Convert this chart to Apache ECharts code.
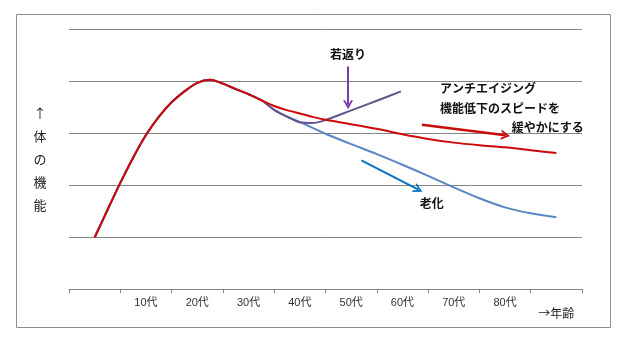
<!DOCTYPE html>
<html>
<head>
<meta charset="utf-8">
<script src="https://cdn.jsdelivr.net/npm/echarts@6/dist/echarts.min.js"></script>
<style>
  html, body { margin: 0; padding: 0; background: #fff; }
  #chart { width: 620px; height: 340px; }
</style>
</head>
<body>
<div id="chart"></div>
<script>
// 年代ラベル（最初の区間はラベルなし）
const ageLabels = ['', '10代', '20代', '30代', '40代', '50代', '60代', '70代', '80代', '→年齢']

// x は区間の位置（0.5 = 最初の区間の中央）、y は体の機能
const sharedRise = [[0.5, 19.8], [0.75, 30.4], [1, 40.8], [1.25, 50.5], [1.5, 59.2], [1.75, 66.2], [2, 71.8], [2.25, 76], [2.5, 79.3], [2.75, 80.5], [3, 79], [3.25, 76.9], [3.5, 74.9], [3.75, 72.6]]
const antiAgingTail = [[4, 70.4], [4.25, 68.8], [4.5, 67.5], [4.75, 66.2], [5, 65.1], [5.5, 63.4], [6, 61.6], [6.5, 59.5], [7, 57.7], [7.5, 56.3], [8, 55.3], [8.5, 54.5], [9, 53.4], [9.5, 52.3]]
const agingTail = [[4, 68.9], [4.25, 66.3], [4.5, 64.2], [4.75, 62], [5, 59.7], [5.5, 55.7], [6, 51.9], [6.5, 47.8], [7, 43.5], [7.5, 39.1], [8, 34.9], [8.5, 31.4], [9, 29.1], [9.5, 27.6]]
const rejuvenateTail = [[4, 68.9], [4.25, 66.3], [4.5, 64.1], [4.75, 63.8], [5, 65], [5.5, 68.7], [6, 72.4], [6.47, 76]]

// 注記（データ座標）
const notes = [
  { text: '若返り', at: [5.44, 90.1], side: 'center' },
  { text: 'アンチエイジング', at: [7.23, 77.3], side: 'left' },
  { text: '機能低下のスピードを', at: [7.23, 69.6], side: 'left' },
  { text: '緩やかにする', at: [8.63, 62.3], side: 'left' },
  { text: '老化', at: [7.07, 33.1], side: 'center' }
]
const purpleArrow = [[5.44, 85.6], [5.44, 70.9]]
const redArrow = [[6.88, 63.2], [8.51, 59.1]]
const blueArrow = [[5.70, 49.5], [6.81, 38.2]]

const chevron = 'path://M0,10 L5,0 L10,10 L8,10 L5,4 L2,10 Z'

function arrow(pts, color, width) {
  return {
    silent: true,
    symbol: ['none', chevron],
    symbolSize: [10, 9],
    label: { show: false },
    lineStyle: { color: color, width: width, type: 'solid' },
    data: [[{ coord: pts[0] }, { coord: pts[1] }]]
  }
}

const chart = echarts.init(document.getElementById('chart'))

chart.setOption({
  animation: false,
  graphic: [{
    type: 'rect',
    shape: { x: 16.5, y: 14.5, width: 594, height: 313 },
    style: { fill: 'none', stroke: '#8c8c8c', lineWidth: 1 },
    silent: true
  }],
  grid: {
    top: 29,
    left: 69,
    right: 38,
    bottom: 51
  },
  xAxis: [{
    type: 'category',
    data: ageLabels,
    boundaryGap: true,
    axisLine: { lineStyle: { color: '#868686', width: 1 } },
    axisTick: { show: true, length: 4, lineStyle: { color: '#868686' } },
    axisLabel: {
      interval: 0,
      margin: 8,
      fontSize: 11,
      color: '#333',
      fontFamily: 'Liberation Sans, Noto Sans CJK JP',
      formatter: function (v) {
        return v.indexOf('→') === 0 ? '{last|' + v + '}' : v
      },
      rich: {
        last: { fontSize: 12, color: '#222', padding: [10, 0, 0, 0], fontFamily: 'Noto Sans CJK JP' }
      }
    }
  }, {
    type: 'value',
    min: 0,
    max: 10,
    show: false
  }],
  yAxis: {
    type: 'value',
    min: 0,
    max: 100,
    interval: 20,
    name: '↑\n体\nの\n機\n能',
    nameLocation: 'middle',
    nameRotate: 0,
    nameGap: 29,
    nameTextStyle: {
      align: 'center',
      verticalAlign: 'middle',
      fontSize: 13,
      lineHeight: 23,
      color: '#222',
      fontFamily: 'Noto Sans CJK JP',
      padding: [0, 0, 22, 0]
    },
    axisLine: { show: false },
    axisTick: { show: false },
    axisLabel: { show: false },
    splitLine: { lineStyle: { color: '#868686', width: 1 } }
  },
  series: [
    {
      name: '老化',
      type: 'line',
      xAxisIndex: 1,
      smooth: 0.3,
      symbol: 'none',
      lineStyle: { color: '#5a86c4', width: 2 },
      data: sharedRise.concat(agingTail),
      markLine: arrow(blueArrow, '#0a70c0', 2)
    },
    {
      name: '若返り',
      type: 'line',
      xAxisIndex: 1,
      smooth: 0.3,
      symbol: 'none',
      lineStyle: { color: '#65548c', width: 2 },
      data: sharedRise.concat(rejuvenateTail),
      markLine: arrow(purpleArrow, '#7a3aae', 2)
    },
    {
      name: 'アンチエイジング',
      type: 'line',
      xAxisIndex: 1,
      smooth: 0.3,
      symbol: 'none',
      lineStyle: { color: '#cc0a0a', width: 2 },
      data: sharedRise.concat(antiAgingTail),
      markLine: arrow(redArrow, '#c80a0a', 2.5),
      markPoint: {
        silent: true,
        symbol: 'circle',
        symbolSize: 0,
        data: notes.map(function (n) {
          return {
            name: n.text,
            coord: n.at,
            label: {
              show: true,
              position: n.side === 'left' ? 'right' : 'inside',
              distance: 0,
              formatter: '{b}',
              fontSize: 12,
              fontWeight: 'bold',
              color: '#111',
              fontFamily: 'Noto Sans CJK JP'
            }
          }
        })
      }
    }
  ]
})
</script>
</body>
</html>
